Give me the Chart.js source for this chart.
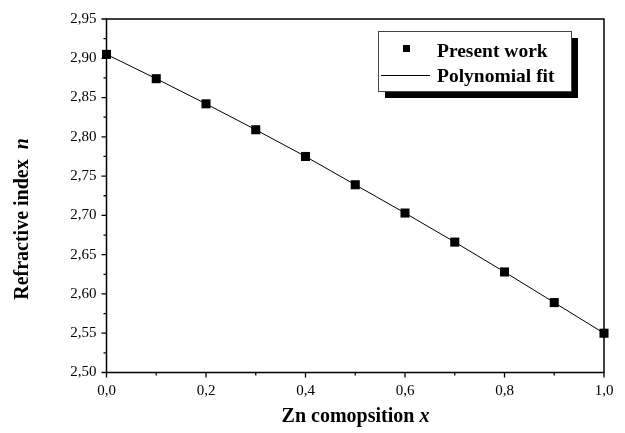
<!DOCTYPE html>
<html>
<head>
<meta charset="utf-8">
<script src="https://cdn.jsdelivr.net/npm/chart.js@4.4.1/dist/chart.umd.min.js"></script>
<style>
  html, body { margin: 0; padding: 0; background: #fff; }
  #wrap { width: 625px; height: 433px; position: relative; }
</style>
</head>
<body>
<div id="wrap"><canvas id="nChart" width="625" height="433"></canvas></div>
<script>
// --- data ---
const xComp = [0.0, 0.1, 0.2, 0.3, 0.4, 0.5, 0.6, 0.7, 0.8, 0.9, 1.0];
const nPresent = [2.905, 2.874, 2.842, 2.809, 2.775, 2.739, 2.703, 2.666, 2.628, 2.589, 2.550];
const nFit = [2.905, 2.874, 2.842, 2.809, 2.775, 2.739, 2.703, 2.666, 2.628, 2.589, 2.550];

const yMin = 2.50, yMax = 2.95, yStep = 0.05;
const xMin = 0.0, xMax = 1.0, xStep = 0.2;

const legendLabels = ["Present work", "Polynomial fit"];
const xTitle = ["Zn comopsition ", "x"];
const yTitle = ["Refractive index  ", "n"];

const serif = "'Liberation Serif', 'Times New Roman', serif";

// draw text pieces (bold / bold italic) one after another
function drawPieces(ctx, pieces, x, y, size) {
  let total = 0;
  pieces.forEach(p => {
    ctx.font = (p.italic ? "italic " : "") + "bold " + size + "px " + serif;
    total += ctx.measureText(p.text).width;
  });
  let cx = x - total / 2;
  pieces.forEach(p => {
    ctx.font = (p.italic ? "italic " : "") + "bold " + size + "px " + serif;
    ctx.fillText(p.text, cx, y);
    cx += ctx.measureText(p.text).width;
  });
}

const framePlugin = {
  id: "frame",
  beforeDatasetsDraw(chart) {
    const ctx = chart.ctx;
    const a = chart.chartArea;
    const xs = chart.scales.x, ys = chart.scales.y;
    ctx.save();
    ctx.strokeStyle = "#000";
    ctx.lineWidth = 1.5;
    ctx.strokeRect(a.left, a.top, a.right - a.left, a.bottom - a.top);

    // ticks: major + minor, outward
    ctx.lineWidth = 1.3;
    ctx.beginPath();
    const ny = Math.round((yMax - yMin) / (yStep / 2));
    for (let i = 0; i <= ny; i++) {
      const py = ys.getPixelForValue(yMin + i * yStep / 2);
      const len = i % 2 === 0 ? 5 : 3;
      ctx.moveTo(a.left, py);
      ctx.lineTo(a.left - len, py);
    }
    const nx = Math.round((xMax - xMin) / (xStep / 2));
    for (let i = 0; i <= nx; i++) {
      const px = xs.getPixelForValue(xMin + i * xStep / 2);
      const len = i % 2 === 0 ? 5 : 3;
      ctx.moveTo(px, a.bottom);
      ctx.lineTo(px, a.bottom + len);
    }
    ctx.stroke();

    // axis titles
    ctx.fillStyle = "#000";
    ctx.textBaseline = "middle";
    ctx.textAlign = "left";
    drawPieces(ctx, [{ text: xTitle[0] }, { text: xTitle[1], italic: true }], 355.5, 417, 20);
    ctx.translate(23, 219);
    ctx.rotate(-Math.PI / 2);
    drawPieces(ctx, [{ text: yTitle[0] }, { text: yTitle[1], italic: true }], 0, 0, 20);
    ctx.restore();
  },
  afterDraw(chart) {
    const ctx = chart.ctx;
    ctx.save();
    // legend box with shadow
    const bx = 378, by = 31, bw = 193, bh = 60;
    ctx.fillStyle = "#000";
    ctx.fillRect(bx + 7, by + 7, bw, bh);
    ctx.fillStyle = "#fff";
    ctx.fillRect(bx, by, bw, bh);
    ctx.strokeStyle = "#444";
    ctx.lineWidth = 1;
    ctx.strokeRect(bx + 0.5, by + 0.5, bw, bh);

    ctx.fillStyle = "#000";
    ctx.fillRect(403, 45, 7, 7);
    ctx.strokeStyle = "#000";
    ctx.beginPath();
    ctx.moveTo(381, 75.5);
    ctx.lineTo(430, 75.5);
    ctx.stroke();

    ctx.font = "bold 19.5px " + serif;
    ctx.textBaseline = "alphabetic";
    ctx.textAlign = "left";
    ctx.fillText(legendLabels[0], 437, 56.5);
    ctx.fillText(legendLabels[1], 437, 81.5);
    ctx.restore();
  }
};

document.addEventListener("DOMContentLoaded", () => {
  const ctx = document.getElementById("nChart").getContext("2d");
  new Chart(ctx, {
    type: "scatter",
    data: {
      datasets: [
        {
          label: legendLabels[0],
          data: xComp.map((x, i) => ({ x: x, y: nPresent[i] })),
          pointStyle: "rect",
          pointRadius: 6.4,
          pointHoverRadius: 6.4,
          backgroundColor: "#000",
          borderColor: "#000",
          borderWidth: 0,
          showLine: false,
          clip: false
        },
        {
          label: legendLabels[1],
          data: xComp.map((x, i) => ({ x: x, y: nFit[i] })),
          showLine: true,
          pointRadius: 0,
          borderColor: "#000",
          borderWidth: 1,
          tension: 0,
          clip: false
        }
      ]
    },
    options: {
      responsive: false,
      animation: false,
      devicePixelRatio: 1,
      layout: { padding: { top: 14, right: 21, bottom: 0, left: 0 } },
      plugins: {
        legend: { display: false },
        tooltip: { enabled: false }
      },
      scales: {
        x: {
          type: "linear",
          min: xMin,
          max: xMax,
          afterFit: s => { s.height = 60.5; },
          border: { display: false },
          grid: { display: false, drawTicks: false },
          ticks: {
            stepSize: xStep,
            padding: 10,
            color: "#000",
            font: { family: serif, size: 15 },
            callback: v => v.toFixed(1).replace(".", ",")
          }
        },
        y: {
          type: "linear",
          min: yMin,
          max: yMax,
          afterFit: s => { s.width = 106.5; },
          border: { display: false },
          grid: { display: false, drawTicks: false },
          ticks: {
            stepSize: yStep,
            padding: 10,
            color: "#000",
            font: { family: serif, size: 15 },
            callback: v => v.toFixed(2).replace(".", ",")
          }
        }
      }
    },
    plugins: [framePlugin]
  });
});
</script>
</body>
</html>
